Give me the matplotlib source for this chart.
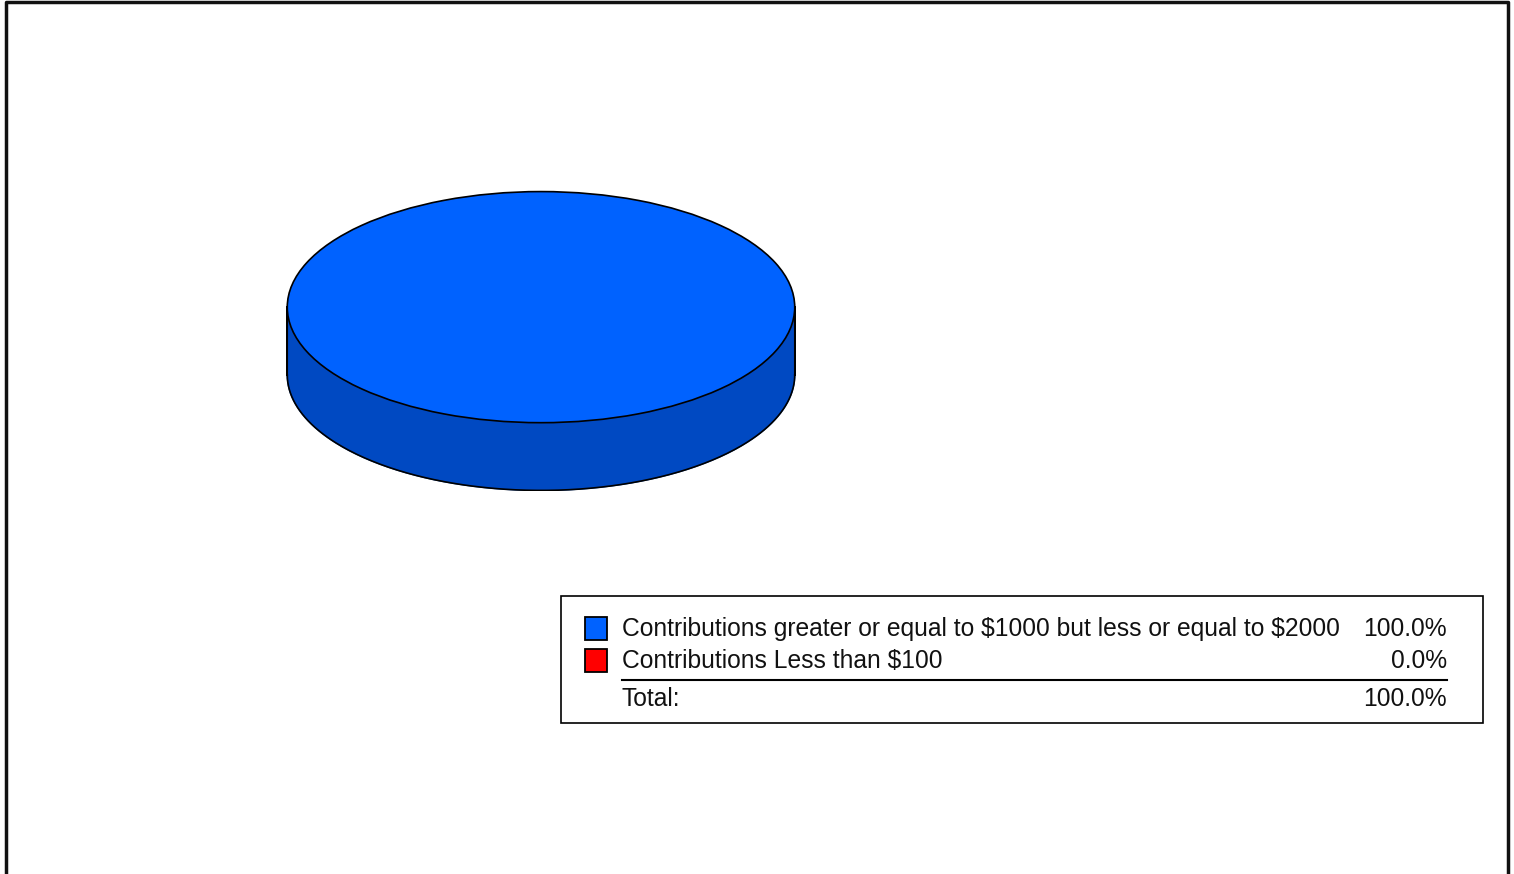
import numpy as np
import matplotlib.pyplot as plt
from matplotlib.patches import Rectangle
from matplotlib.lines import Line2D

# Data
labels = ['Contributions greater or equal to $1000 but less or equal to $2000',
          'Contributions Less than $100']
values = [100.0, 0.0]
top_colors = ['#0062ff', '#ff0000']
side_colors = ['#0049c2', '#c00000']
total_label = 'Total:'

W, H = 1514, 874
fig = plt.figure(figsize=(W / 100, H / 100), dpi=100)
plt.rcParams['font.family'] = ['Liberation Sans', 'DejaVu Sans']

# pie geometry in pixels: top ellipse centre, radii, thickness
cx, cy, rx, ry, depth = 541, 307, 255, 116, 68
d = depth / ry
ax = fig.add_axes([(cx - rx) / W, 1 - (cy + ry + depth) / H,
                   2 * rx / W, (2 * ry + depth) / H])

# side of the disc: front part of each slice
start = 90.0
fracs = np.array(values) / sum(values)
a = start
for frac, col in zip(fracs, side_colors):
    b = a + 360 * frac
    if frac > 0:
        for k in range(-1, 3):
            lo = max(a, 180 + 360 * k)
            hi = min(b, 360 + 360 * k)
            if hi <= lo:
                continue
            t = np.radians(np.linspace(lo, hi, 300))
            xs = np.concatenate([np.cos(t), np.cos(t[::-1])])
            ys = np.concatenate([np.sin(t), np.sin(t[::-1]) - d])
            ax.fill(xs, ys, color=col, zorder=1)
            ax.plot(np.cos(t), np.sin(t) - d, color='black', lw=1.2, zorder=2)
    a = b
for xv in (-1, 1):
    ax.plot([xv, xv], [0, -d], color='black', lw=1.5, zorder=2)

# top of the disc
wedges, _ = ax.pie(values, colors=top_colors, startangle=start,
                   wedgeprops=dict(edgecolor='black', linewidth=1.2))
for w, v in zip(wedges, values):
    w.set_zorder(3)
    if v == 0:
        w.set_visible(False)
ax.set_aspect('auto')
ax.set_xlim(-1.005, 1.005)
ax.set_ylim(-1 - d - 0.005, 1.005)
ax.axis('off')

# overlay in pixel coordinates for legend and frame
ov = fig.add_axes([0, 0, 1, 1])
ov.set_xlim(0, W)
ov.set_ylim(H, 0)
ov.axis('off')

ov.add_line(Line2D([6, 6, 1508, 1508], [H, 2, 2, H], color='#111111', lw=2.5))

ov.add_patch(Rectangle((561, 596), 922, 127, fill=False, edgecolor='black', lw=1.2))
fs = 17.7
txt = dict(fontsize=fs, va='center', color='#111111', parse_math=False)
rows_y = [629, 661]
for lab, v, col, y in zip(labels, values, top_colors, rows_y):
    ov.add_patch(Rectangle((585, y - 12), 22, 23, facecolor=col, edgecolor='black', lw=1.3))
    ov.text(622, y, lab, ha='left', **txt)
    ov.text(1447, y, f'{v:.1f}%', ha='right', **txt)
ov.add_line(Line2D([622, 1447], [680, 680], color='black', lw=1.5))
ov.text(622, 699, total_label, ha='left', **txt)
ov.text(1447, 699, f'{sum(values):.1f}%', ha='right', **txt)

fig.savefig('out.png', dpi=100, facecolor='white')
